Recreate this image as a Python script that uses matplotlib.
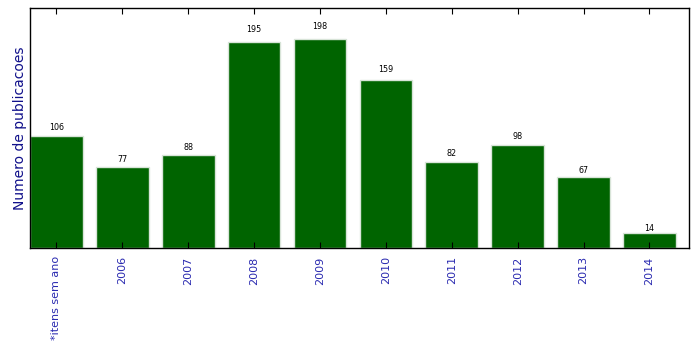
import matplotlib
matplotlib.use("Agg")
import matplotlib.pyplot as plt
import numpy as np

categories = ["*itens sem ano", "2006", "2007", "2008", "2009", "2010",
              "2011", "2012", "2013", "2014"]
counts = [106, 77, 88, 195, 198, 159, 82, 98, 67, 14]

fig = plt.figure(figsize=(6.99, 3.48), dpi=100)
ax = fig.add_axes([30 / 699, 1 - 248 / 348, 659 / 699, 240 / 348])

x = np.arange(len(categories))
bars = ax.bar(x, counts, width=0.8, color="#006400", edgecolor="#d8e4d8", linewidth=1)

for rect in bars:
    h = rect.get_height()
    ax.text(rect.get_x() + rect.get_width() / 2, 1.04 * h, "%d" % int(h),
            ha="center", va="bottom", fontsize=5.8, color="black")

ax.set_xlim(-0.4, 9.6)
ax.set_ylim(0, 1.15 * max(counts))
ax.set_xticks(x)
ax.set_xticklabels(categories, rotation=90, fontsize=8, color="#2a2ab0")
ax.set_yticks([])
ax.tick_params(axis="x", direction="in", length=4, top=True, bottom=True, pad=6)
ax.set_ylabel("Numero de publicacoes", fontsize=10, color="#10108a", labelpad=2)
for spine in ax.spines.values():
    spine.set_linewidth(1)

fig.savefig("out.png", dpi=100)
